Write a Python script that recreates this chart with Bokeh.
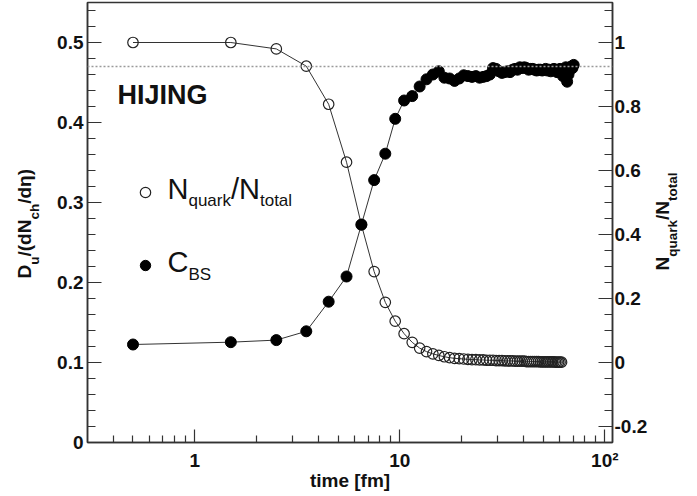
import math
from bokeh.plotting import figure
from bokeh.layouts import row
from bokeh.models import (Range1d, LinearAxis, FixedTicker, CustomJSTickFormatter, Span,
                          Label, Legend, LegendItem, ColumnDataSource)
from bokeh.embed import file_html
from bokeh.resources import INLINE

# ---------------- data ----------------
time_fm = [0.5, 1.5, 2.5, 3.5, 4.5, 5.5, 6.5, 7.5, 8.5, 9.5,
           10.5, 11.5, 12.5, 13.5, 14.5, 15.5, 16.5, 17.5, 18.5, 19.5,
           20.5, 21.5, 22.5, 23.5, 24.5, 25.5, 26.5, 27.5, 28.5, 29.5,
           30.5, 31.5, 32.5, 33.5, 34.5, 35.5, 36.5, 37.5, 38.5, 39.5,
           40.5, 41.5, 42.5, 43.5, 44.5, 45.5, 46.5, 47.5, 48.5, 49.5,
           50.5, 51.5, 52.5, 53.5, 54.5, 55.5, 56.5, 57.5, 58.5, 59.5,
           60.5, 61.5, 62.5, 63.5, 64.5, 65.5, 66.5, 67.5, 68.5, 69.5,
           70.5]

# N_quark / N_total (right axis), 0.5 .. 61.5 fm
n_quark_frac = [1.0, 1.0, 0.98, 0.926, 0.807, 0.626, 0.43, 0.284, 0.188, 0.129,
                0.090, 0.063, 0.045, 0.034, 0.027, 0.022, 0.018, 0.015, 0.013, 0.012,
                0.011, 0.010, 0.009, 0.009, 0.008, 0.008, 0.007, 0.007, 0.007, 0.006,
                0.006, 0.006, 0.005, 0.005, 0.005, 0.005, 0.004, 0.004, 0.004, 0.004,
                0.004, 0.003, 0.003, 0.003, 0.003, 0.003, 0.003, 0.003, 0.002, 0.002,
                0.002, 0.002, 0.002, 0.002, 0.002, 0.002, 0.002, 0.001, 0.001, 0.001,
                0.001, 0.001]

# C_BS = D_u/(dN_ch/deta) (left axis), 0.5 .. 70.5 fm
c_bs = [0.1225, 0.1254, 0.128, 0.139, 0.176, 0.2075, 0.2725, 0.328, 0.361, 0.4046,
        0.4275, 0.433, 0.445, 0.454, 0.460, 0.464, 0.456, 0.455, 0.452, 0.455,
        0.459, 0.458, 0.457, 0.458, 0.456, 0.457, 0.458, 0.460, 0.468, 0.467,
        0.464, 0.462, 0.463, 0.464, 0.463, 0.466, 0.467, 0.466, 0.469, 0.468,
        0.469, 0.468, 0.466, 0.467, 0.467, 0.466, 0.465, 0.466, 0.466, 0.465,
        0.466, 0.467, 0.465, 0.466, 0.464, 0.466, 0.467, 0.465, 0.463, 0.466,
        0.467, 0.462, 0.458, 0.465, 0.469, 0.451, 0.460, 0.466, 0.470, 0.468,
        0.472]

cutoff_level = 0.47
model_name = "HIJING"
x_title = "time [fm]"
x_major = [1, 10, 100]
x_minor = [0.4, 0.5, 0.6, 0.7, 0.8, 0.9, 2, 3, 4, 5, 6, 7, 8, 9,
           20, 30, 40, 50, 60, 70, 80, 90]
left_major = [0, 0.1, 0.2, 0.3, 0.4, 0.5]
left_minor = [round(0.02 * i, 2) for i in range(0, 28)]
right_major = [-0.2, 0, 0.2, 0.4, 0.6, 0.8, 1.0]
right_minor = [round(-0.25 + 0.05 * i, 2) for i in range(0, 28)]

FONT = "Liberation Sans"
INK = "#111111"
AX = "#333333"
H = 494
LW, MW, RW = 53, 597, 46
TOP, BOTTOM = 2, 52

p = figure(width=MW, height=H, x_axis_type="log",
           x_range=Range1d(0.3, 109), y_range=Range1d(0, 0.55),
           output_backend="svg", toolbar_location=None,
           min_border_left=34, min_border_right=35, min_border_top=TOP,
           min_border_bottom=BOTTOM)
p.extra_y_ranges = {"r": Range1d(-0.25, 1.125)}
p.grid.visible = False
p.outline_line_color = AX
p.outline_line_width = 1.5
p.background_fill_color = "white"
p.border_fill_color = "white"

fmt = CustomJSTickFormatter(code="""
if (Math.abs(tick) < 1e-9) return '0';
if (Math.abs(tick - 100) < 1e-6) return '10\u00b2';
return String(parseFloat(tick.toFixed(2)));
""")


def style_axis(ax, standoff):
    ax.major_tick_in = 14
    ax.major_tick_out = 0
    ax.minor_tick_in = 8
    ax.minor_tick_out = 0
    ax.axis_line_color = AX
    ax.axis_line_width = 1.5
    ax.major_tick_line_color = AX
    ax.minor_tick_line_color = AX
    ax.major_tick_line_width = 1.2
    ax.minor_tick_line_width = 1.2
    ax.major_label_text_font = FONT
    ax.major_label_text_font_style = "bold"
    ax.major_label_text_font_size = "19px"
    ax.major_label_text_color = INK
    ax.major_label_standoff = standoff
    ax.formatter = fmt


xax = p.xaxis[0]
xax.ticker = FixedTicker(ticks=x_major, minor_ticks=x_minor)
style_axis(xax, 7)
xax.minor_tick_in = 7
xax.major_tick_in = 13
xax.axis_label = x_title
xax.axis_label_text_font = FONT
xax.axis_label_text_font_style = "bold"
xax.axis_label_text_font_size = "19px"
xax.axis_label_text_color = INK
xax.axis_label_standoff = -4

yax = p.yaxis[0]
yax.ticker = FixedTicker(ticks=left_major, minor_ticks=left_minor)
style_axis(yax, 4)

rax = LinearAxis(y_range_name="r")
rax.ticker = FixedTicker(ticks=right_major, minor_ticks=right_minor)
style_axis(rax, 2)
p.add_layout(rax, "right")

# dotted reference level
p.add_layout(Span(location=cutoff_level, dimension="width", line_color="#9a9a9a",
                  line_dash="2 2", line_width=1.5))

src_o = ColumnDataSource(dict(t=time_fm[:len(n_quark_frac)], v=n_quark_frac))
src_f = ColumnDataSource(dict(t=time_fm[:len(c_bs)], v=c_bs))

p.line("t", "v", source=src_o, y_range_name="r", line_color="#333333", line_width=1)
r_o = p.scatter("t", "v", source=src_o, y_range_name="r", marker="circle", size=10.5,
                fill_alpha=0, line_color="#222222", line_width=1.2)
p.line("t", "v", source=src_f, line_color="#333333", line_width=1)
r_f = p.scatter("t", "v", source=src_f, marker="circle", size=11,
                fill_color="black", line_color="black", line_width=1)

legend = Legend(items=[LegendItem(label=" ", renderers=[r_o]),
                       LegendItem(label=" ", renderers=[r_f])],
                location=(45, 164), glyph_width=26, glyph_height=26, spacing=47,
                padding=0, margin=0, label_standoff=0, label_width=1, label_height=26,
                border_line_color=None, background_fill_alpha=0,
                label_text_font_size="1px")
p.add_layout(legend)


# ---------------- side text panels (frames share the main frame's top/bottom) ----------------
def text_fig(w):
    f = figure(width=w, height=H, x_range=Range1d(0, w), y_range=Range1d(0, 1),
               output_backend="svg", toolbar_location=None,
               min_border_left=0, min_border_right=0, min_border_top=TOP,
               min_border_bottom=BOTTOM,
               x_axis_location=None, y_axis_location=None, outline_line_color=None)
    f.grid.visible = False
    f.background_fill_color = "white"
    f.border_fill_color = "white"
    return f


left_fig = text_fig(LW)
right_fig = text_fig(RW)

W_REG = {'N': .722, 'q': .556, 'u': .556, 'a': .556, 'r': .333, 'k': .5, '/': .278,
         't': .278, 'o': .556, 'l': .222, 'C': .722, 'B': .667, 'S': .667}
W_BOLD = {'D': .722, 'u': .611, '/': .278, '(': .333, 'd': .611, 'N': .722, 'c': .556,
          'h': .611, ' ': .278, 'η': .611, ')': .333, 'q': .611, 'a': .556, 'r': .389,
          'k': .556, 't': .333, 'o': .611, 'l': .278}


def add_text(fig, txt, x, y, size, bold=False, angle=0.0):
    # compensate the renderer's placement of the alphabetic baseline (about 0.3 em low)
    if angle == 0.0:
        y = y + 0.3 * size
    else:
        x = x - 0.3 * size
    fig.add_layout(Label(x=x, y=y, x_units="screen", y_units="screen", text=txt,
                         text_font=FONT, text_font_size=f"{size}px",
                         text_font_style="bold" if bold else "normal",
                         text_color=INK, angle=angle, text_align="left",
                         text_baseline="alphabetic"))


def compose(fig, pieces, x, y, bold, main, sub, dsub, rotated=False):
    table = W_BOLD if bold else W_REG
    pos = 0.0
    for txt, is_sub in pieces:
        size = sub if is_sub else main
        w = sum(table.get(c, 0.556) for c in txt) * size
        if rotated:
            add_text(fig, txt, x + (dsub if is_sub else 0), y + pos, size, bold, math.pi / 2)
        else:
            add_text(fig, txt, x + pos, y - (dsub if is_sub else 0), size, bold)
        pos += w


add_text(p, model_name, 30, 339, 27, bold=True)
compose(p, [("N", False), ("quark", True), ("/N", False), ("total", True)],
        80, 245, False, 29, 17, 8)
compose(p, [("C", False), ("BS", True)], 80, 172, False, 29, 17, 9)

# rotated titles: x is the baseline, y measured up from the frame bottom (page y = 442)
compose(left_fig, [("D", False), ("u", True), ("/(dN", False), ("ch", True), (" /dη)", False)],
        30, 164, True, 19, 13.5, 8, rotated=True)
compose(right_fig, [("N", False), ("quark", True), ("/N", False), ("total", True)],
        18, 172, True, 19, 13.5, 8, rotated=True)

layout = row(left_fig, p, right_fig)
open("out.html", "w").write(file_html(layout, INLINE))
